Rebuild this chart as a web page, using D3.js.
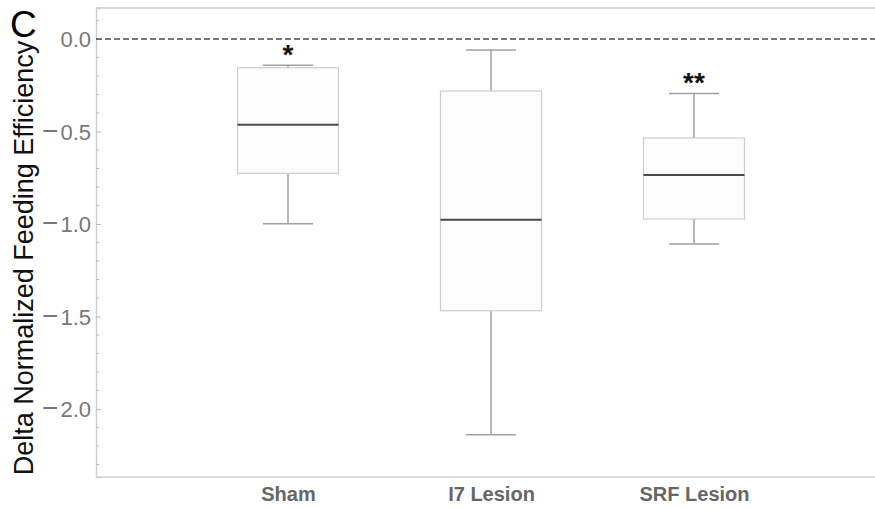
<!DOCTYPE html>
<html>
<head>
<meta charset="utf-8">
<script src="https://cdn.jsdelivr.net/npm/d3@7/dist/d3.min.js"></script>
<style>
  html, body { margin: 0; padding: 0; background: #fff; }
  svg { display: block; font-family: "Liberation Sans", Arial, Helvetica, sans-serif; }
</style>
</head>
<body>
<svg id="chart" width="875" height="508"></svg>
<script>
// Data
const categories = ["Sham", "I7 Lesion", "SRF Lesion"];
const whiskerHigh = [-0.142, -0.059, -0.294];
const q3 = [-0.155, -0.281, -0.535];
const median = [-0.463, -0.977, -0.735];
const q1 = [-0.726, -1.469, -0.973];
const whiskerLow = [-0.998, -2.139, -1.108];
const significance = ["*", "", "**"];
const yTicks = [0.0, -0.5, -1.0, -1.5, -2.0];
const yMinorTicks = [0.1, -0.1, -0.2, -0.3, -0.4, -0.6, -0.7, -0.8, -0.9, -1.1, -1.2, -1.3, -1.4, -1.6, -1.7, -1.8, -1.9, -2.1, -2.2, -2.3];
const panelLabel = "C";
const yTitle = "Delta Normalized Feeding Efficiency";

(function () {
const svg = d3.select("#chart");
const mLeft = 96, mRight = 875, mTop = 8, mBottom = 477;

const y = d3.scaleLinear().domain([0.168, -2.368]).range([mTop, mBottom]);
const x = d3.scalePoint().domain(categories).range([288, 694]);
const boxW = 101, capW = 50;

// frame top
svg.append("line").attr("x1", mLeft).attr("x2", mRight).attr("y1", mTop).attr("y2", mTop)
  .attr("stroke", "#cfcfcf").attr("stroke-width", 1.5);

// Y axis
const yAxis = d3.axisLeft(y).tickValues(yTicks).tickSize(-5).tickPadding(5)
  .tickFormat(d => d3.format(".1f")(Math.abs(d)));
const gy = svg.append("g").attr("transform", `translate(${mLeft},0)`).call(yAxis);
gy.attr("font-family", null).attr("font-size", null);
gy.select(".domain").attr("stroke", "#cfcfcf").attr("stroke-width", 1.5);
gy.selectAll(".tick line").attr("stroke", "#bbb");
gy.selectAll(".tick text").attr("fill", "#777").attr("font-size", 22).attr("dy", "0.36em")
  .each(function (d) {
    const t = d3.select(this);
    const num = t.text();
    t.text(null);
    if (d < 0) {
      t.append("tspan").attr("font-size", 28).text("\u2212");
      t.append("tspan").attr("dx", 2).text(num);
    } else {
      t.append("tspan").text(num);
    }
  });

// minor ticks
svg.append("g").selectAll("line").data(yMinorTicks).join("line")
  .attr("x1", mLeft).attr("x2", mLeft + 3)
  .attr("y1", d => y(d)).attr("y2", d => y(d))
  .attr("stroke", "#bbb").attr("stroke-width", 1);

// X axis
const xAxis = d3.axisBottom(x).tickSize(0).tickPadding(0);
const gx = svg.append("g").attr("transform", `translate(0,${mBottom})`).call(xAxis);
gx.attr("font-family", null).attr("font-size", null);
gx.select(".domain").remove();
svg.append("line").attr("x1", mLeft).attr("x2", mRight).attr("y1", mBottom).attr("y2", mBottom)
  .attr("stroke", "#cfcfcf").attr("stroke-width", 1.5);
gx.selectAll(".tick text").attr("fill", "#666").attr("font-size", 20).attr("font-weight", "bold")
  .attr("y", 0).attr("dy", 24);

// Zero reference line
svg.append("line").attr("x1", mLeft).attr("x2", mRight).attr("y1", y(0)).attr("y2", y(0))
  .attr("stroke", "#4a4a4a").attr("stroke-width", 1.4).attr("stroke-dasharray", "6,3");

// Boxes
const data = categories.map((c, i) => ({
  c, hi: whiskerHigh[i], q3: q3[i], med: median[i], q1: q1[i], lo: whiskerLow[i], sig: significance[i]
}));

const g = svg.append("g").selectAll("g").data(data).join("g");

g.append("line").attr("x1", d => x(d.c)).attr("x2", d => x(d.c))
  .attr("y1", d => y(d.hi)).attr("y2", d => y(d.q3))
  .attr("stroke", "#a0a0a0").attr("stroke-width", 1.5);
g.append("line").attr("x1", d => x(d.c)).attr("x2", d => x(d.c))
  .attr("y1", d => y(d.q1)).attr("y2", d => y(d.lo))
  .attr("stroke", "#a0a0a0").attr("stroke-width", 1.5);
g.append("line").attr("x1", d => x(d.c) - capW / 2).attr("x2", d => x(d.c) + capW / 2)
  .attr("y1", d => y(d.hi)).attr("y2", d => y(d.hi))
  .attr("stroke", "#a0a0a0").attr("stroke-width", 1.5);
g.append("line").attr("x1", d => x(d.c) - capW / 2).attr("x2", d => x(d.c) + capW / 2)
  .attr("y1", d => y(d.lo)).attr("y2", d => y(d.lo))
  .attr("stroke", "#a0a0a0").attr("stroke-width", 1.5);
g.append("rect").attr("x", d => x(d.c) - boxW / 2).attr("width", boxW)
  .attr("y", d => y(d.q3)).attr("height", d => y(d.q1) - y(d.q3))
  .attr("fill", "#fcfcfc").attr("stroke", "#cccccc").attr("stroke-width", 1.2);
g.append("line").attr("x1", d => x(d.c) - boxW / 2).attr("x2", d => x(d.c) + boxW / 2)
  .attr("y1", d => y(d.med)).attr("y2", d => y(d.med))
  .attr("stroke", "#4a4a4a").attr("stroke-width", 2);
g.append("text").attr("x", d => x(d.c)).attr("y", d => y(d.hi) - 18)
  .attr("text-anchor", "middle").attr("dy", "0.6em")
  .attr("font-size", 28).attr("font-weight", "bold").attr("fill", "#111")
  .text(d => d.sig);

// Y title
svg.append("text")
  .attr("transform", `translate(33,258) rotate(-90)`)
  .attr("text-anchor", "middle").attr("font-size", 27).attr("fill", "#111")
  .text(yTitle);

// Panel label
svg.append("text").attr("x", 10).attr("y", 37).attr("font-size", 37).attr("fill", "#000")
  .text(panelLabel);
})();
</script>
</body>
</html>
